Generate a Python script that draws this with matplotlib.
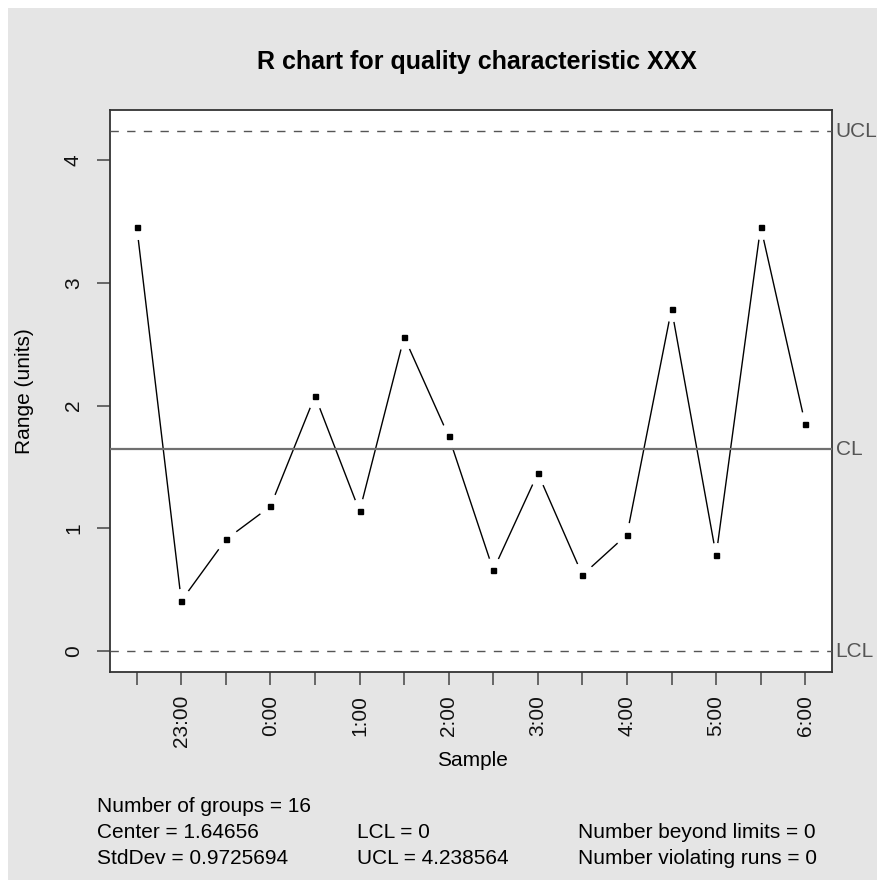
"""R chart (qcc style) for quality characteristic XXX"""
import matplotlib
matplotlib.use("Agg")
import matplotlib.pyplot as plt
from matplotlib.patches import Rectangle

# data
groups = list(range(1, 17))
times = ['22:30', '23:00', '23:30', '0:00', '0:30', '1:00', '1:30', '2:00',
         '2:30', '3:00', '3:30', '4:00', '4:30', '5:00', '5:30', '6:00']
ranges = [3.46, 0.41, 0.91, 1.18, 2.08, 1.14, 2.56, 1.75,
          0.66, 1.45, 0.62, 0.95, 2.79, 0.78, 3.46, 1.85]
center = 1.64656
stddev = 0.9725694
lcl = 0
ucl = 4.238564
n_beyond = 0
n_runs = 0

plt.rcParams['font.family'] = ['Liberation Sans', 'DejaVu Sans']
plt.rcParams['lines.scale_dashes'] = False
FS = 15

W, H = 877, 880
fig = plt.figure(figsize=(W / 100, H / 100), dpi=100, facecolor='white')
# grey margin (the reference has a thin white strip top and left)
fig.patches.append(Rectangle((8 / W, 0), 1, 1 - 8 / H, transform=fig.transFigure,
                             facecolor='#e5e5e5', edgecolor='none', zorder=-10))

ax = fig.add_axes([110 / W, (H - 672) / H, (832 - 110) / W, (672 - 110) / H])
ax.set_facecolor('white')

# control limits
ax.axhline(ucl, color='#555555', lw=1.0, dashes=(6, 6), zorder=3)
ax.axhline(lcl, color='#555555', lw=1.0, dashes=(6, 6), zorder=3)
ax.axhline(center, color='#707070', lw=1.6, zorder=3)

# data: line with gaps round the points (R type="b")
ax.plot(groups, ranges, color='black', lw=1.0, zorder=2)
ax.plot(groups, ranges, ls='none', marker='o', ms=17, mfc='white', mec='white', zorder=2.2)
ax.plot(groups, ranges, ls='none', marker='s', ms=3.6, mfc='black', mec='black', zorder=4)

ax.set_xlim(0.4, 16.6)
ax.set_ylim(-0.17, 4.41)

ax.set_xticks(groups)
ax.set_xticklabels([t if i % 2 == 1 else '' for i, t in enumerate(times)],
                   rotation=90, va='top', ha='center')
ax.set_yticks([0, 1, 2, 3, 4])
ax.set_yticklabels(['0', '1', '2', '3', '4'], rotation=90, va='center', ha='right')
ax.tick_params(axis='both', length=9.5, width=1.1, color='#444444',
               labelsize=FS, labelcolor='#111111')
ax.tick_params(axis='x', pad=7)
ax.tick_params(axis='y', pad=10)
for s in ax.spines.values():
    s.set_linewidth(1.3)
    s.set_color('#333333')

# right-hand labels
for val, lab in [(ucl, 'UCL'), (center, 'CL'), (lcl, 'LCL')]:
    ax.text(1.005, val, lab, transform=ax.get_yaxis_transform(), ha='left',
            va='center', fontsize=FS, color='#555555', clip_on=False)

fig.text(477 / W, 1 - 62 / H, 'R chart for quality characteristic XXX',
         ha='center', va='center', fontsize=18, fontweight='bold')
fig.text(472 / W, 1 - 760 / H, 'Sample', ha='center', va='center', fontsize=FS)
fig.text(24 / W, 1 - 391 / H, 'Range (units)', ha='center', va='center',
         rotation=90, fontsize=FS)

# summary statistics
stats = [
    (97, 806, 'Number of groups = %d' % len(groups)),
    (97, 832, 'Center = %g' % center),
    (97, 858, 'StdDev = %s' % stddev),
    (357, 832, 'LCL = %g' % lcl),
    (357, 858, 'UCL = %s' % ucl),
    (578, 832, 'Number beyond limits = %d' % n_beyond),
    (578, 858, 'Number violating runs = %d' % n_runs),
]
for x, y, s in stats:
    fig.text(x / W, 1 - y / H, s, ha='left', va='center', fontsize=FS)

fig.savefig('out.png', dpi=100, facecolor=fig.get_facecolor())
